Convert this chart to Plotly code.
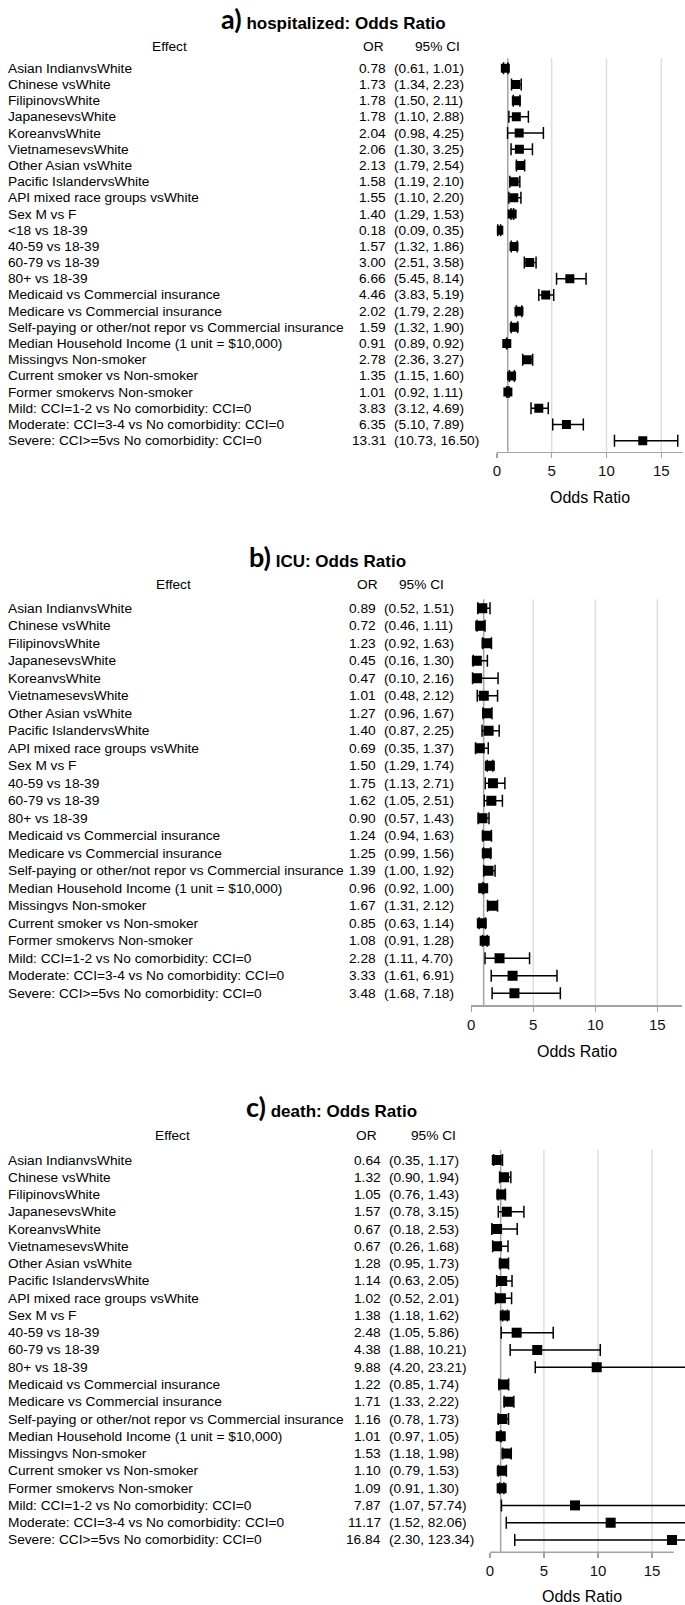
import plotly.graph_objects as go

# ---------------- data ----------------
labels_a = ["Asian IndianvsWhite", "Chinese vsWhite", "FilipinovsWhite", "JapanesevsWhite",
            "KoreanvsWhite", "VietnamesevsWhite", "Other Asian vsWhite", "Pacific IslandervsWhite",
            "API mixed race groups vsWhite", "Sex M vs F", "<18 vs 18-39", "40-59 vs 18-39",
            "60-79 vs 18-39", "80+ vs 18-39", "Medicaid vs Commercial insurance",
            "Medicare vs Commercial insurance",
            "Self-paying or other/not repor vs Commercial insurance",
            "Median Household Income (1 unit = $10,000)", "Missingvs Non-smoker",
            "Current smoker vs Non-smoker", "Former smokervs Non-smoker",
            "Mild: CCI=1-2 vs No comorbidity: CCI=0",
            "Moderate: CCI=3-4 vs No comorbidity: CCI=0",
            "Severe: CCI>=5vs No comorbidity: CCI=0"]
or_a = [0.78, 1.73, 1.78, 1.78, 2.04, 2.06, 2.13, 1.58, 1.55, 1.40, 0.18, 1.57, 3.00, 6.66,
        4.46, 2.02, 1.59, 0.91, 2.78, 1.35, 1.01, 3.83, 6.35, 13.31]
lo_a = [0.61, 1.34, 1.50, 1.10, 0.98, 1.30, 1.79, 1.19, 1.10, 1.29, 0.09, 1.32, 2.51, 5.45,
        3.83, 1.79, 1.32, 0.89, 2.36, 1.15, 0.92, 3.12, 5.10, 10.73]
hi_a = [1.01, 2.23, 2.11, 2.88, 4.25, 3.25, 2.54, 2.10, 2.20, 1.53, 0.35, 1.86, 3.58, 8.14,
        5.19, 2.28, 1.90, 0.92, 3.27, 1.60, 1.11, 4.69, 7.89, 16.50]

labels_bc = ["Asian IndianvsWhite", "Chinese vsWhite", "FilipinovsWhite", "JapanesevsWhite",
             "KoreanvsWhite", "VietnamesevsWhite", "Other Asian vsWhite", "Pacific IslandervsWhite",
             "API mixed race groups vsWhite", "Sex M vs F", "40-59 vs 18-39",
             "60-79 vs 18-39", "80+ vs 18-39", "Medicaid vs Commercial insurance",
             "Medicare vs Commercial insurance",
             "Self-paying or other/not repor vs Commercial insurance",
             "Median Household Income (1 unit = $10,000)", "Missingvs Non-smoker",
             "Current smoker vs Non-smoker", "Former smokervs Non-smoker",
             "Mild: CCI=1-2 vs No comorbidity: CCI=0",
             "Moderate: CCI=3-4 vs No comorbidity: CCI=0",
             "Severe: CCI>=5vs No comorbidity: CCI=0"]
or_b = [0.89, 0.72, 1.23, 0.45, 0.47, 1.01, 1.27, 1.40, 0.69, 1.50, 1.75, 1.62, 0.90, 1.24,
        1.25, 1.39, 0.96, 1.67, 0.85, 1.08, 2.28, 3.33, 3.48]
lo_b = [0.52, 0.46, 0.92, 0.16, 0.10, 0.48, 0.96, 0.87, 0.35, 1.29, 1.13, 1.05, 0.57, 0.94,
        0.99, 1.00, 0.92, 1.31, 0.63, 0.91, 1.11, 1.61, 1.68]
hi_b = [1.51, 1.11, 1.63, 1.30, 2.16, 2.12, 1.67, 2.25, 1.37, 1.74, 2.71, 2.51, 1.43, 1.63,
        1.56, 1.92, 1.00, 2.12, 1.14, 1.28, 4.70, 6.91, 7.18]

or_c = [0.64, 1.32, 1.05, 1.57, 0.67, 0.67, 1.28, 1.14, 1.02, 1.38, 2.48, 4.38, 9.88, 1.22,
        1.71, 1.16, 1.01, 1.53, 1.10, 1.09, 7.87, 11.17, 16.84]
lo_c = [0.35, 0.90, 0.76, 0.78, 0.18, 0.26, 0.95, 0.63, 0.52, 1.18, 1.05, 1.88, 4.20, 0.85,
        1.33, 0.78, 0.97, 1.18, 0.79, 0.91, 1.07, 1.52, 2.30]
hi_c = [1.17, 1.94, 1.43, 3.15, 2.53, 1.68, 1.73, 2.05, 2.01, 1.62, 5.86, 10.21, 23.21, 1.74,
        2.22, 1.73, 1.05, 1.98, 1.53, 1.30, 57.74, 82.06, 123.34]

panel_letters = ["a)", "b)", "c)"]
panel_titles = ["hospitalized: Odds Ratio", "ICU: Odds Ratio", "death: Odds Ratio"]
tick_vals = [0, 5, 10, 15]
axis_title = "Odds Ratio"

# ---------------- layout geometry (pixels) ----------------
W, H = 685, 1605
FONT = "Liberation Sans, Arial, sans-serif"
TXT = 13.7

geo = [
    dict(title_x=216, title_y=18, hdr_y=47, row0=68.3, step=16.19, top=58.3, axis=451.7,
         x0=495.7, ppu=11.03, xmax=17.0, axis_end=17.0, eff_x=166, or_right=386, ci_left=390,
         or_hdr=372, ci_hdr=436, xlab_y=497, msize=9),
    dict(title_x=244, title_y=556, hdr_y=584, row0=608.3, step=17.5, top=599.3, axis=1005,
         x0=470.0, ppu=12.48, xmax=17.0, axis_end=17.0, eff_x=170, or_right=376, ci_left=380,
         or_hdr=366, ci_hdr=420, xlab_y=1051.7, msize=10),
    dict(title_x=241, title_y=1106, hdr_y=1135, row0=1160, step=17.27, top=1150, axis=1552.3,
         x0=488.7, ppu=10.88, xmax=None, axis_end=17.0, eff_x=169, or_right=381, ci_left=385,
         or_hdr=365, ci_hdr=432, xlab_y=1596.7, msize=10),
]


def fx(px):
    return px / W


def fy(px):
    return 1 - px / H


def esc(s):
    return s.replace("<", "&lt;").replace(">", "&gt;")


datasets = [(labels_a, or_a, lo_a, hi_a), (labels_bc, or_b, lo_b, hi_b),
            (labels_bc, or_c, lo_c, hi_c)]

fig = go.Figure()
annotations = []
shapes = []
layout_axes = {}

GRID = "#dedede"
REF = "#a3a3a3"
AXC = "#a3a3a3"

for k, ((labs, ors, los, his), g) in enumerate(zip(datasets, geo)):
    n = len(labs)
    sfx = "" if k == 0 else str(k + 1)
    xa, ya = "x" + sfx, "y" + sfx
    right_px = W if g["xmax"] is None else g["x0"] + g["xmax"] * g["ppu"]
    xmax = (right_px - g["x0"]) / g["ppu"]
    ytop = (g["top"] - g["row0"]) / g["step"]
    ybot = (g["axis"] - g["row0"]) / g["step"]

    layout_axes["xaxis" + sfx] = dict(
        domain=[fx(g["x0"]), fx(right_px)], range=[0, xmax], anchor=ya,
        showgrid=False, zeroline=False, showline=(g["xmax"] is not None),
        linecolor=AXC, linewidth=1.5, ticks="outside", ticklen=5, tickwidth=1.5,
        tickcolor=AXC, tickvals=tick_vals, ticktext=[str(v) for v in tick_vals],
        tickfont=dict(family=FONT, size=15, color="#111"), fixedrange=True)
    layout_axes["yaxis" + sfx] = dict(
        domain=[fy(g["axis"]), fy(g["top"])], range=[ybot, ytop], anchor=xa,
        visible=False, fixedrange=True)

    # grid lines and reference line
    for v in tick_vals[1:]:
        shapes.append(dict(type="line", xref=xa, yref=ya + " domain", x0=v, x1=v, y0=0, y1=1,
                           line=dict(color=GRID, width=1.5), layer="below"))
    shapes.append(dict(type="line", xref=xa, yref=ya + " domain", x0=1, x1=1, y0=0, y1=1,
                       line=dict(color=REF, width=1.5), layer="below"))
    if g["xmax"] is None:
        shapes.append(dict(type="line", xref=xa, yref=ya + " domain", x0=0, x1=g["axis_end"],
                           y0=0, y1=0, line=dict(color=AXC, width=1.5)))

    fig.add_trace(go.Scatter(
        x=ors, y=list(range(n)), mode="markers", xaxis=xa, yaxis=ya,
        marker=dict(symbol="square", size=g["msize"], color="black"),
        error_x=dict(type="data", symmetric=False,
                     array=[h - o for h, o in zip(his, ors)],
                     arrayminus=[o - l for o, l in zip(ors, los)],
                     color="black", thickness=1.5, width=6),
        hoverinfo="skip", showlegend=False))

    # table text
    for i, (lab, o, l, h) in enumerate(zip(labs, ors, los, his)):
        annotations.append(dict(text=esc(lab), xref="paper", yref=ya, x=fx(2), y=i,
                                xanchor="left", yanchor="middle", showarrow=False,
                                font=dict(family=FONT, size=TXT, color="black")))
        annotations.append(dict(text=f"{o:.2f}", xref="paper", yref=ya, x=fx(g["or_right"]),
                                y=i, xanchor="right", yanchor="middle", showarrow=False,
                                font=dict(family=FONT, size=TXT, color="black")))
        annotations.append(dict(text=f"({l:.2f}, {h:.2f})", xref="paper", yref=ya,
                                x=fx(g["ci_left"]), y=i, xanchor="left", yanchor="middle",
                                showarrow=False,
                                font=dict(family=FONT, size=TXT, color="black")))
    # headers
    for txt, cx in (("Effect", g["eff_x"]), ("OR", g["or_hdr"]), ("95% CI", g["ci_hdr"])):
        annotations.append(dict(text=txt, xref="paper", yref="paper", x=fx(cx),
                                y=fy(g["hdr_y"]), xanchor="center", yanchor="middle",
                                showarrow=False,
                                font=dict(family=FONT, size=TXT, color="black")))
    # title
    annotations.append(dict(
        text=("<span style='font-family:Lato, Carlito, sans-serif;font-size:27px'><b>"
              + panel_letters[k] + "</b></span> <b>" + panel_titles[k] + "</b>"),
        xref="paper", yref="paper", x=fx(g["title_x"]), y=fy(g["title_y"]),
        xanchor="left", yanchor="middle", showarrow=False,
        font=dict(family=FONT, size=17, color="black")))
    # axis title
    annotations.append(dict(text=axis_title, xref=xa + " domain", yref="paper",
                            x=(g["axis_end"] * g["ppu"] / 2) / (right_px - g["x0"]),
                            y=fy(g["xlab_y"]), xanchor="center", yanchor="middle",
                            showarrow=False,
                            font=dict(family=FONT, size=16, color="black")))

fig.update_layout(
    width=W, height=H, margin=dict(l=0, r=0, t=0, b=0),
    paper_bgcolor="white", plot_bgcolor="rgba(0,0,0,0)",
    annotations=annotations, shapes=shapes, **layout_axes)

fig.write_html(
    "out.html",
    config={"displayModeBar": False, "staticPlot": True},
    post_script=("document.body.style.margin='0';document.body.style.padding='0';"
                 "document.body.style.overflow='hidden';"
                 "document.documentElement.style.overflow='hidden';"))
